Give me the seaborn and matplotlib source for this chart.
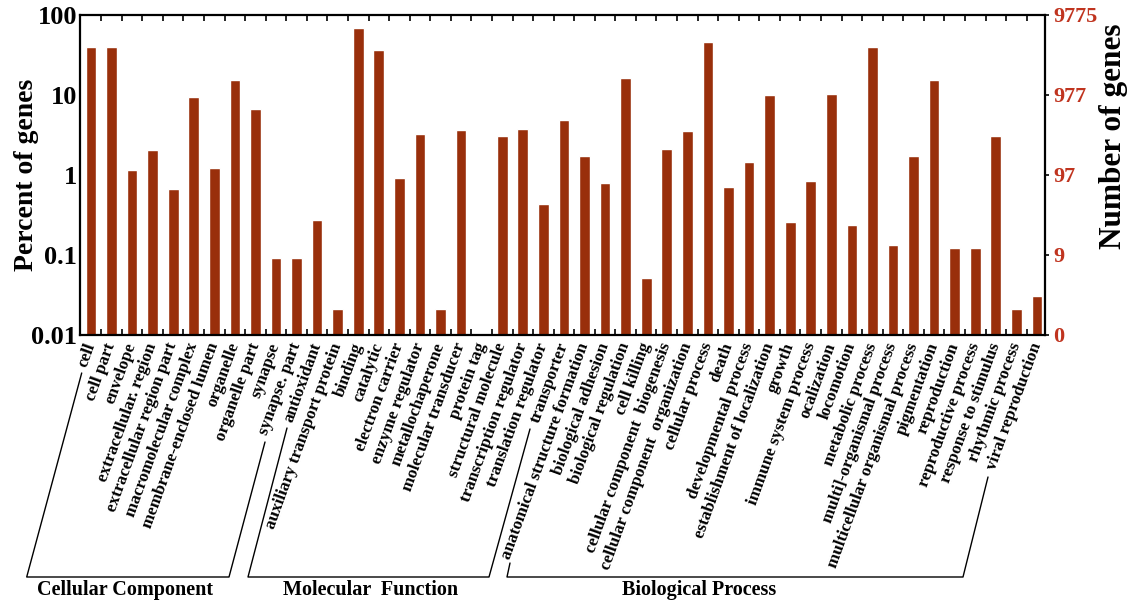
import numpy as np
import pandas as pd
import matplotlib
matplotlib.use("Agg")
import matplotlib.pyplot as plt
import seaborn as sns
from matplotlib.lines import Line2D

categories = [
    "cell", "cell part", "envelope", "extracellular. region", "extracellular region part",
    "macromolecular complex", "membrane-enclosed lumen", "organelle", "organelle part",
    "synapse", "synapse. part",
    "antioxidant", "auxiliary transport protein", "binding", "catalytic", "electron carrier",
    "enzyme regulator", "metallochaperone", "molecular transducer", "protein tag",
    "structural molecule", "transcription regulator", "translation regulator", "transporter",
    "anatomical structure formation", "biological adhesion", "biological regulation",
    "cell killing", "cellular component  biogenesis", "cellular component  organization",
    "cellular process", "death", "developmental process", "establishment of localization",
    "growth", "immune system process", "ocalization", "locomotion", "metabolic process",
    "multi]-organismal process", "multicellular organismal process", "pigmentation",
    "reproduction", "reproductive process", "response to stimulus", "rhythmic process",
    "viral reproduction",
]
percent = [
    40, 40, 1.15, 2.05, 0.66, 9.5, 1.21, 15.4, 6.6, 0.093, 0.093,
    0.27, 0.021, 69, 36, 0.91, 3.3, 0.021, 3.7, 0.0,
    3.1, 3.76, 0.43, 4.9,
    1.73, 0.80, 16.2, 0.051, 2.1, 3.55, 45.6, 0.71, 1.47, 10.1,
    0.256, 0.83, 10.4, 0.235, 40.2, 0.133, 1.73, 15.4,
    0.123, 0.123, 3.1, 0.021, 0.031,
]
left_ticks = [0.01, 0.1, 1, 10, 100]
left_tick_labels = ["0.01", "0.1", "1", "10", "100"]
right_tick_labels = ["0", "9", "97", "977", "9775"]
groups = ["Cellular Component", "Molecular  Function", "Biological Process"]

df = pd.DataFrame({"category": categories, "percent": percent})

sns.set_style("white")
plt.rcParams["font.family"] = ["Liberation Serif", "DejaVu Serif"]
plt.rcParams["font.weight"] = "bold"
plt.rcParams["text.color"] = "black"
plt.rcParams["xtick.color"] = "black"
plt.rcParams["ytick.color"] = "black"
plt.rcParams["axes.labelcolor"] = "black"

W, H = 1127, 602
fig = plt.figure(figsize=(W / 100, H / 100), dpi=100)
ax = fig.add_axes([80 / W, 1 - 335 / H, (1045 - 80) / W, (335 - 15) / H])

bar_color = "#992f0b"
sns.barplot(data=df, x="category", y="percent", order=categories, color=bar_color,
            saturation=1, width=0.52, ax=ax, log_scale=(False, True))
ax.set_yscale("log")
ax.set_ylim(0.01, 100)
n = len(categories)
ax.set_xlim(-0.53, n - 1 + 0.39)

ax.set_yticks(left_ticks)
ax.set_yticklabels(left_tick_labels, fontsize=19, fontweight="bold", color="black")
ax.yaxis.set_minor_locator(matplotlib.ticker.NullLocator())
ax.tick_params(axis="y", which="major", length=0, pad=2)

ax.set_xticks(range(n))
ax.set_xticklabels(categories, rotation=70, ha="right", va="center",
                   rotation_mode="anchor", fontsize=12.3, fontweight="bold", color="black")
ax.tick_params(axis="x", which="major", length=0, pad=6)
ax.set_xticks(np.arange(n - 1) + 0.5, minor=True)
ax.tick_params(axis="x", which="minor", direction="in", top=True, bottom=True,
               length=4, width=1.2, color="black")
ax.set_xlabel("")
ax.set_ylabel("")
fig.text(27 / W, 1 - 175 / H, "Percent of genes", rotation=90, ha="center", va="center",
         fontsize=20, fontweight="bold", color="black")

for s in ax.spines.values():
    s.set_visible(True)
    s.set_linewidth(1.6)
    s.set_color("black")

ax2 = ax.twinx()
ax2.set_yscale("log")
ax2.set_ylim(0.01, 100)
ax2.set_yticks(left_ticks)
ax2.set_yticklabels(right_tick_labels, fontsize=16, fontweight="bold", color="#c0341f")
ax2.yaxis.set_minor_locator(matplotlib.ticker.NullLocator())
ax2.tick_params(axis="y", which="major", direction="out", length=3, width=1.2, pad=3)
for s in ax2.spines.values():
    s.set_visible(False)
fig.text(1113 / W, 1 - 136 / H, "Number of genes", rotation=90, ha="center", va="center",
         fontsize=22.5, fontweight="bold", color="black")

def fx(x):
    return x / W

def fy(y):
    return 1 - y / H

brackets = [
    [(81.7, 373), (26.7, 577), (229, 577), (265, 442)],
    [(287, 428), (248, 577), (489, 577), (530, 429)],
    [(510, 563), (507, 577), (963, 577), (988, 477)],
]
for pts in brackets:
    xs = [fx(p[0]) for p in pts]
    ys = [fy(p[1]) for p in pts]
    fig.add_artist(Line2D(xs, ys, color="black", linewidth=1.0))

group_x = [125, 371, 699]
for g, gx in zip(groups, group_x):
    fig.text(fx(gx), fy(590), g, ha="center", va="center", fontsize=14.5,
             fontweight="bold", color="black")

fig.savefig("out.png", dpi=100)
